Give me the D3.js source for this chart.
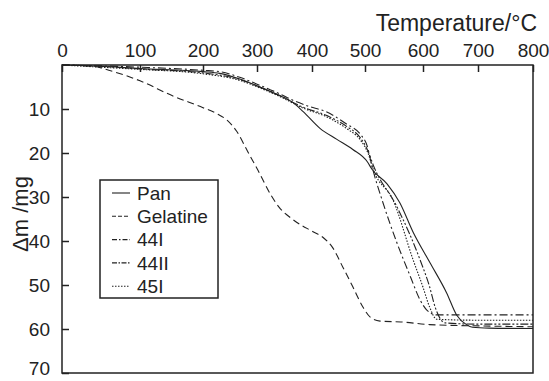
<!DOCTYPE html>
<html>
<head>
<meta charset="utf-8">
<script src="https://cdn.jsdelivr.net/npm/d3@7"></script>
<style>
  body { margin: 0; background: #fff; }
  svg text { font-family: "Liberation Sans", Arial, sans-serif; fill: #222; }
</style>
</head>
<body>
<svg id="chart" width="549" height="381"></svg>
<script>
// temperature axis is not linear (labels placed on a time base)
const tempTicks = [0, 100, 200, 300, 400, 500, 600, 700, 800];
const massTicks = [10, 20, 30, 40, 50, 60, 70];

const seriesNames = ['Pan', 'Gelatine', '44I', '44II', '45I'];

// [temperature, mass loss]
const pan = [[0,0],[50,0.3],[100,0.8],[200,1.5],[231,1.9],[268,3.2],[305,5],[342,7],[365,8.5],[384,10.6],[415,14.4],[447,16.9],[477,19.2],[504,22],[512,23.7],[538,27],[560,31.3],[583,38],[613,45],[643,51.8],[661,56.8],[679,59],[690,59.6],[720,59.8],[800,59.9]];
const gelatine = [[0,0],[40,0.3],[60,1.2],[100,3.6],[150,6.9],[200,9.7],[225,11],[245,12.6],[262,15],[282,19.5],[302,24],[325,29.5],[340,32.3],[365,35.1],[402,37.9],[421,39.2],[439,41.5],[458,45.9],[477,50.4],[496,55],[509,57.3],[526,58.2],[562,58.4],[612,59],[704,59.3],[800,59.5]];
const s44I = [[0,0],[50,0.2],[100,0.5],[200,1.2],[231,1.5],[268,2.8],[305,4.6],[342,6.6],[365,8],[392,9.3],[428,10.7],[466,13.5],[491,15.7],[504,18.5],[512,23],[531,31.3],[555,40.4],[578,48],[595,53.4],[607,55.7],[625,56.8],[700,56.8],[800,56.8]];
const s44II = [[0,0],[50,0.3],[100,0.9],[200,1.8],[268,3.3],[305,5],[342,7],[384,9.6],[428,11.5],[466,14],[491,16.5],[505,19.5],[515,23],[555,32.2],[595,44.3],[612,50.4],[622,55],[640,58.6],[700,58.9],[800,58.9]];
const s45I = [[0,0],[50,0.5],[100,1],[200,2],[268,3.5],[305,5.2],[342,7.2],[384,9.8],[428,11.8],[466,14.5],[491,17],[505,20],[515,24],[548,30.6],[583,44.3],[600,50.5],[612,55],[625,57.8],[700,58],[800,58]];

const dashes = ['none', '7,4', '8,3,2,3', '8,2,2,2,2,2', '1.5,1.5'];
const legendDashes = ['none', '4,2', '5,2,1.5,2', '5,1.5,1.5,1.5', '1.5,1.5'];
const series = [pan, gelatine, s44I, s44II, s45I];

const svg = d3.select('#chart');

const x = d3.scaleLinear()
    .domain(tempTicks)
    .range([62, 140, 203, 257, 312, 365, 423, 478, 533]);
const y = d3.scaleLinear()
    .domain([0, 70])
    .range([65, 373]);

const line = d3.line()
    .x(d => x(d[0]))
    .y(d => y(d[1]))
    .curve(d3.curveMonotoneX);

// curves
svg.append('g')
    .selectAll('path')
    .data(series)
    .enter().append('path')
    .attr('d', line)
    .attr('fill', 'none')
    .attr('stroke', '#222')
    .attr('stroke-width', 1.1)
    .attr('stroke-dasharray', (d, i) => dashes[i]);

// frame
svg.append('rect')
    .attr('x', x(0)).attr('y', y(0))
    .attr('width', x(800) - x(0)).attr('height', y(70) - y(0))
    .attr('fill', 'none').attr('stroke', '#222').attr('stroke-width', 1.5);

// top axis, ticks pointing in
const xAxis = svg.append('g')
    .attr('transform', `translate(0,${y(0)})`)
    .call(d3.axisTop(x).tickValues(tempTicks).tickSize(-7).tickPadding(8).tickFormat(d3.format('d')));
xAxis.select('.domain').remove();
xAxis.selectAll('line').attr('stroke', '#222').attr('stroke-width', 1.5);
xAxis.selectAll('text').attr('font-size', 19).attr('fill', '#222');

const yAxis = svg.append('g')
    .attr('transform', `translate(${x(0)},0)`)
    .call(d3.axisLeft(y).tickValues(massTicks).tickSize(-7).tickPadding(12));
yAxis.select('.domain').remove();
yAxis.selectAll('line').attr('stroke', '#222').attr('stroke-width', 1.5);
yAxis.selectAll('text').attr('font-size', 19).attr('fill', '#222');
// keep the last label inside the page
yAxis.selectAll('text').filter(d => d === 70).attr('dy', '0.1em');

// axis titles
svg.append('text')
    .attr('x', 537).attr('y', 31)
    .attr('text-anchor', 'end')
    .attr('font-size', 23)
    .text('Temperature/°C');

svg.append('text')
    .attr('transform', 'translate(28,214) rotate(-90)')
    .attr('text-anchor', 'middle')
    .attr('font-size', 22)
    .text('Δm /mg');

// legend
const legend = svg.append('g').attr('transform', 'translate(100,180)');
legend.append('rect')
    .attr('width', 118).attr('height', 118)
    .attr('fill', '#fff').attr('stroke', '#222').attr('stroke-width', 1.5);

const item = legend.selectAll('g.item')
    .data(seriesNames)
    .enter().append('g')
    .attr('class', 'item')
    .attr('transform', (d, i) => `translate(0,${13 + i * 23.3})`);

item.append('line')
    .attr('x1', 12).attr('x2', 30)
    .attr('stroke', '#222').attr('stroke-width', 1.1)
    .attr('stroke-dasharray', (d, i) => legendDashes[i]);

item.append('text')
    .attr('x', 37).attr('dy', '0.35em')
    .attr('font-size', 19)
    .text(d => d);
</script>
</body>
</html>
